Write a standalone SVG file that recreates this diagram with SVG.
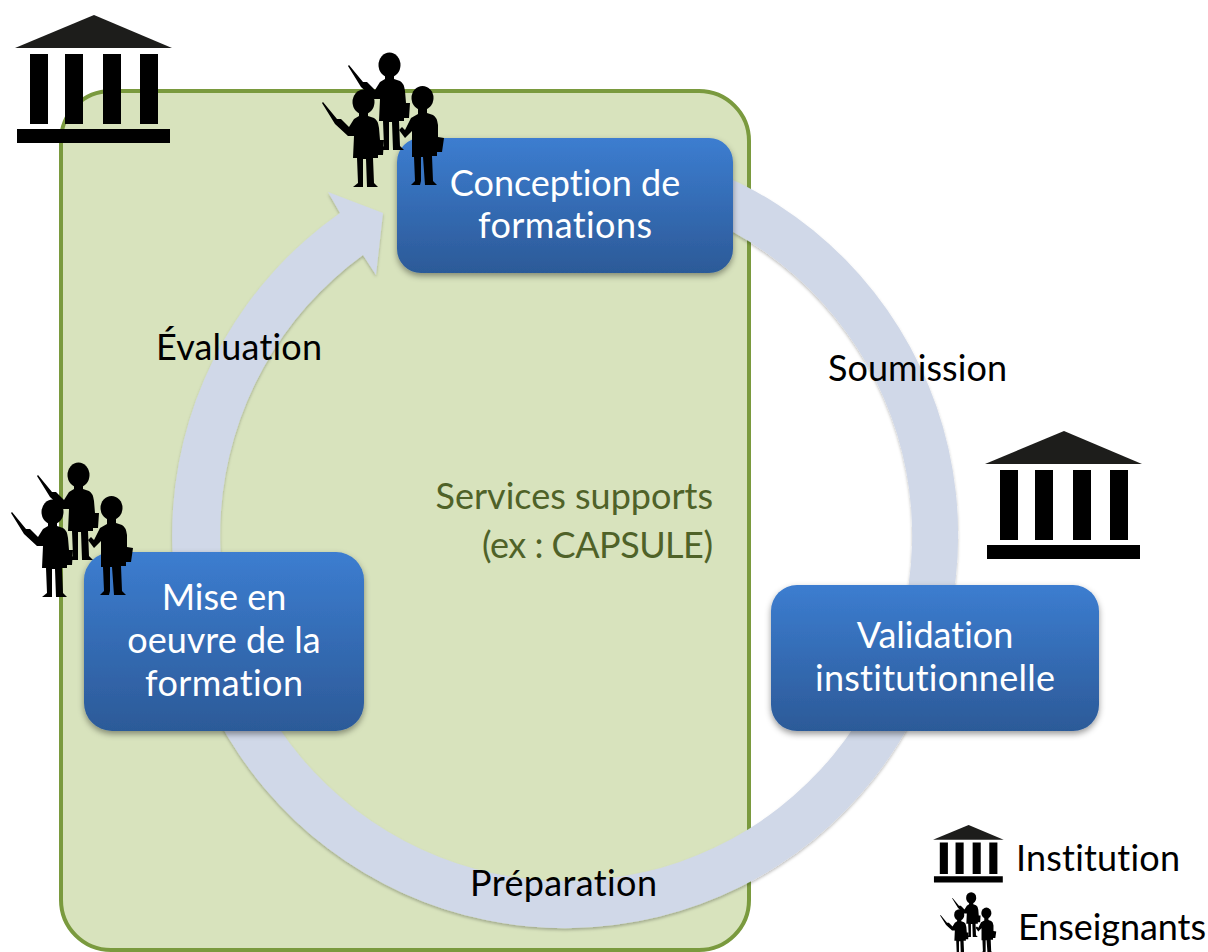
<svg xmlns="http://www.w3.org/2000/svg" xmlns:xlink="http://www.w3.org/1999/xlink" width="1208" height="952" viewBox="0 0 1208 952">
<style>
text{font-family:Lato,"Open Sans",sans-serif;font-size:36px;font-variant-ligatures:none}
.w{fill:#fff;text-anchor:middle}
.k{fill:#000}
.g{fill:#4f6228;text-anchor:end}
.box{fill:url(#bg);filter:url(#sh)}
</style>
<defs>
<linearGradient id="bg" x1="0" y1="0" x2="0" y2="1"><stop offset="0" stop-color="#3c7dd0"/><stop offset="1" stop-color="#2c5a98"/></linearGradient>
<filter id="sh" x="-10%" y="-10%" width="120%" height="125%"><feDropShadow dx="0" dy="3" stdDeviation="3" flood-color="#000" flood-opacity=".4"/></filter>
<filter id="sr" x="-5%" y="-5%" width="110%" height="110%"><feDropShadow dx="0" dy="2" stdDeviation="1.500" flood-color="#000" flood-opacity=".25"/></filter>
<g id="inst">
<path d="M15 48L94 15L172 48Z" fill="#1d1d1b"/>
<path d="M30 54h18v70h-18zM65 54h18v70h-18zM103 54h18v70h-18zM140 54h18v70h-18zM17 129h153v14h-153z"/>
</g>
<g id="tp">
<ellipse cx="363.500" cy="102" rx="11" ry="12.500"/>
<path d="M359 112h9v4l6 2Q378 120 379 128L380 140L384 140L383 155L378 155L378 158H373L374 183L378 187H367L366 159H363L363 183V187H353L358 183L357 158H353L354 136L348 136L335 124L322 103L323 102L337 119L341 119L349 127L354 119L359 116Z"/>
</g>
<g id="tb">
<ellipse cx="422.500" cy="98" rx="11" ry="12"/>
<path d="M418 108h9v5l6 2Q437 117 438 125L438 137L444 138L442 152L437 152L437 156H432L433 181L437 185H425L423 157H421L421 181L420 185H411L415 181L414 157H412L412 131L405 138L399 130L402 127L405 130L411 118L418 114Z"/>
</g>
<g id="team">
<use xlink:href="#tp"/>
<use xlink:href="#tp" x="26" y="-37"/>
<use xlink:href="#tb"/>
</g>
</defs>
<rect width="1208" height="952" fill="#fff"/>
<rect id="support" x="61" y="91" width="688" height="859" rx="50" fill="#d8e3bd" stroke="#7a9a3e" stroke-width="4"/>
<g id="connectors">
<path d="M700 166A393 393 0 1 1 340 213L328 192L383 213L376 275L363 255A346 346 0 1 0 700 216Z" fill="#d0d8e8" filter="url(#sr)"/>
</g>
<text class="g" x="713" y="509">Services supports</text>
<text class="g" x="713" y="558" textLength="231">(ex : CAPSULE)</text>
<text class="k" x="156" y="360" textLength="166">Évaluation</text>
<text class="k" x="828" y="381" textLength="179">Soumission</text>
<text class="k" x="470" y="896" textLength="187">Préparation</text>
<g id="conception"><rect class="box" x="397" y="138" width="336" height="135" rx="24"/>
<text class="w" x="565" y="196">Conception de</text><text class="w" x="565" y="238" textLength="174">formations</text></g>
<g id="miseenoeuvre"><rect class="box" x="84" y="552" width="280" height="179" rx="28"/>
<text class="w" x="224" y="610">Mise en</text><text class="w" x="224" y="653">oeuvre de la</text><text class="w" x="224" y="696" textLength="158">formation</text></g>
<g id="validation"><rect class="box" x="771" y="585" width="328" height="146" rx="26"/>
<text class="w" x="935" y="648">Validation</text><text class="w" x="935" y="691" textLength="240">institutionnelle</text></g>
<g id="inst1"><use xlink:href="#inst"/></g>
<g id="inst2"><use xlink:href="#inst" x="970" y="416"/></g>
<g id="team1"><use xlink:href="#team"/></g>
<g id="team2"><use xlink:href="#team" x="-311" y="410"/></g>
<g id="legend">
<use xlink:href="#inst" transform="translate(926.300 818.200) scale(.45)"/>
<text class="k" x="1016" y="871" textLength="164">Institution</text>
<use xlink:href="#team" transform="translate(792 868) scale(.46)"/>
<text class="k" x="1018" y="940" textLength="188">Enseignants</text>
</g>
</svg>
